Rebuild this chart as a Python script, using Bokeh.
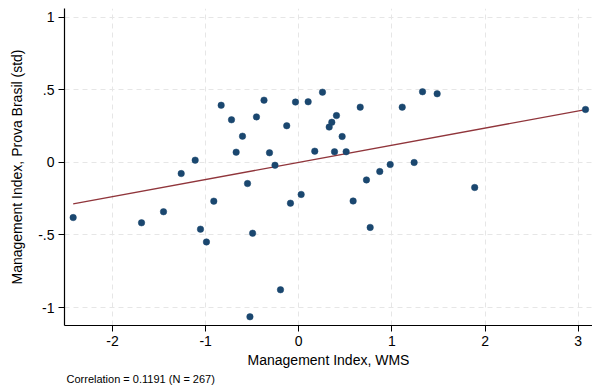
from bokeh.plotting import figure
from bokeh.models import Range1d, FixedTicker, Title
from bokeh.embed import file_html
from bokeh.resources import INLINE

# Management index (WMS) vs. Prova Brasil score, state-level means
wms = [-2.422, -1.688, -1.452, -1.262, -1.112, -0.912, -1.055, -0.991,
       -0.833, -0.722, -0.373, -0.454, -0.604, -0.672, -0.314, -0.129,
       -0.035, -0.255, -0.550, -0.089, 0.026, -0.495, -0.196, -0.524,
       0.101, 0.255, 0.660, 1.111, 0.405, 0.355, 0.327, 0.466,
       0.172, 0.384, 0.509, 0.982, 0.870, 0.727, 1.239, 0.584,
       0.767, 1.329, 1.486, 1.889, 3.079]
prova = [-0.380, -0.416, -0.340, -0.077, 0.015, -0.267, -0.460, -0.548,
         0.393, 0.293, 0.428, 0.313, 0.180, 0.070, 0.066, 0.252,
         0.415, -0.020, -0.146, -0.281, -0.221, -0.488, -0.877, -1.063,
         0.417, 0.483, 0.380, 0.380, 0.322, 0.276, 0.243, 0.178,
         0.077, 0.073, 0.073, -0.015, -0.063, -0.121, -0.001, -0.266,
         -0.448, 0.486, 0.472, -0.173, 0.364]

# Linear fit (estimated on the full sample)
fit_intercept = 0.0
fit_slope = 0.118

x_ticks = [-2, -1, 0, 1, 2, 3]
y_ticks = [-1, -0.5, 0, 0.5, 1]
y_tick_labels = {-1: "-1", -0.5: "-.5", 0: "0", 0.5: ".5", 1: "1"}

note = "Correlation = 0.1191 (N = 267)"
x_title = "Management Index, WMS"
y_title = "Management Index, Prova Brasil (std)"

FONT = "Liberation Sans"
NAVY = "#1a476f"
MAROON = "#90353b"

p = figure(width=592, height=388, output_backend="svg", toolbar_location=None,
           x_range=Range1d(-2.515, 3.154), y_range=Range1d(-1.123, 1.059),
           min_border_left=64, min_border_right=0, min_border_top=8,
           min_border_bottom=63)
p.outline_line_color = None
p.background_fill_color = "white"
p.border_fill_color = "white"

# grid: light dashed lines at every major tick
for g in (p.xgrid, p.ygrid):
    g.grid_line_color = "#e6e6e6"
    g.grid_line_dash = "5 4"
    g.grid_line_width = 1

# axes
p.xaxis.ticker = FixedTicker(ticks=x_ticks)
p.yaxis.ticker = FixedTicker(ticks=y_ticks)
p.yaxis.major_label_overrides = y_tick_labels
p.xaxis.major_label_overrides = {t: str(t) for t in x_ticks}
for ax in (p.xaxis, p.yaxis):
    ax.axis_line_color = "black"
    ax.axis_line_width = 1.2
    ax.major_tick_line_color = "black"
    ax.major_tick_line_width = 1
    ax.major_tick_out = 6
    ax.major_tick_in = 0
    ax.minor_tick_line_color = None
    ax.major_label_text_font = FONT
    ax.major_label_text_font_size = "14px"
    ax.major_label_text_color = "black"
    ax.major_label_standoff = 4
    ax.axis_label_text_font = FONT
    ax.axis_label_text_font_size = "14px"
    ax.axis_label_text_font_style = "normal"
    ax.axis_label_text_color = "black"
p.yaxis.major_label_orientation = "horizontal"
p.xaxis.axis_label = x_title
p.yaxis.axis_label = y_title
p.xaxis.axis_label_standoff = 3
p.yaxis.axis_label_standoff = 10

# fitted line over the observed range
x0, x1 = min(wms), max(wms)
p.line([x0, x1], [fit_intercept + fit_slope * x0, fit_intercept + fit_slope * x1],
       line_color=MAROON, line_width=1.3)

# scatter points
p.scatter(wms, prova, size=6.5, fill_color=NAVY, line_color=NAVY, line_width=0.5)

# correlation note beneath the x axis
p.add_layout(Title(text=note, align="left", text_font=FONT, text_font_size="11px",
                   text_font_style="normal", text_color="black", offset=2,
                   standoff=0), "below")

open("out.html", "w").write(file_html(p, INLINE))
